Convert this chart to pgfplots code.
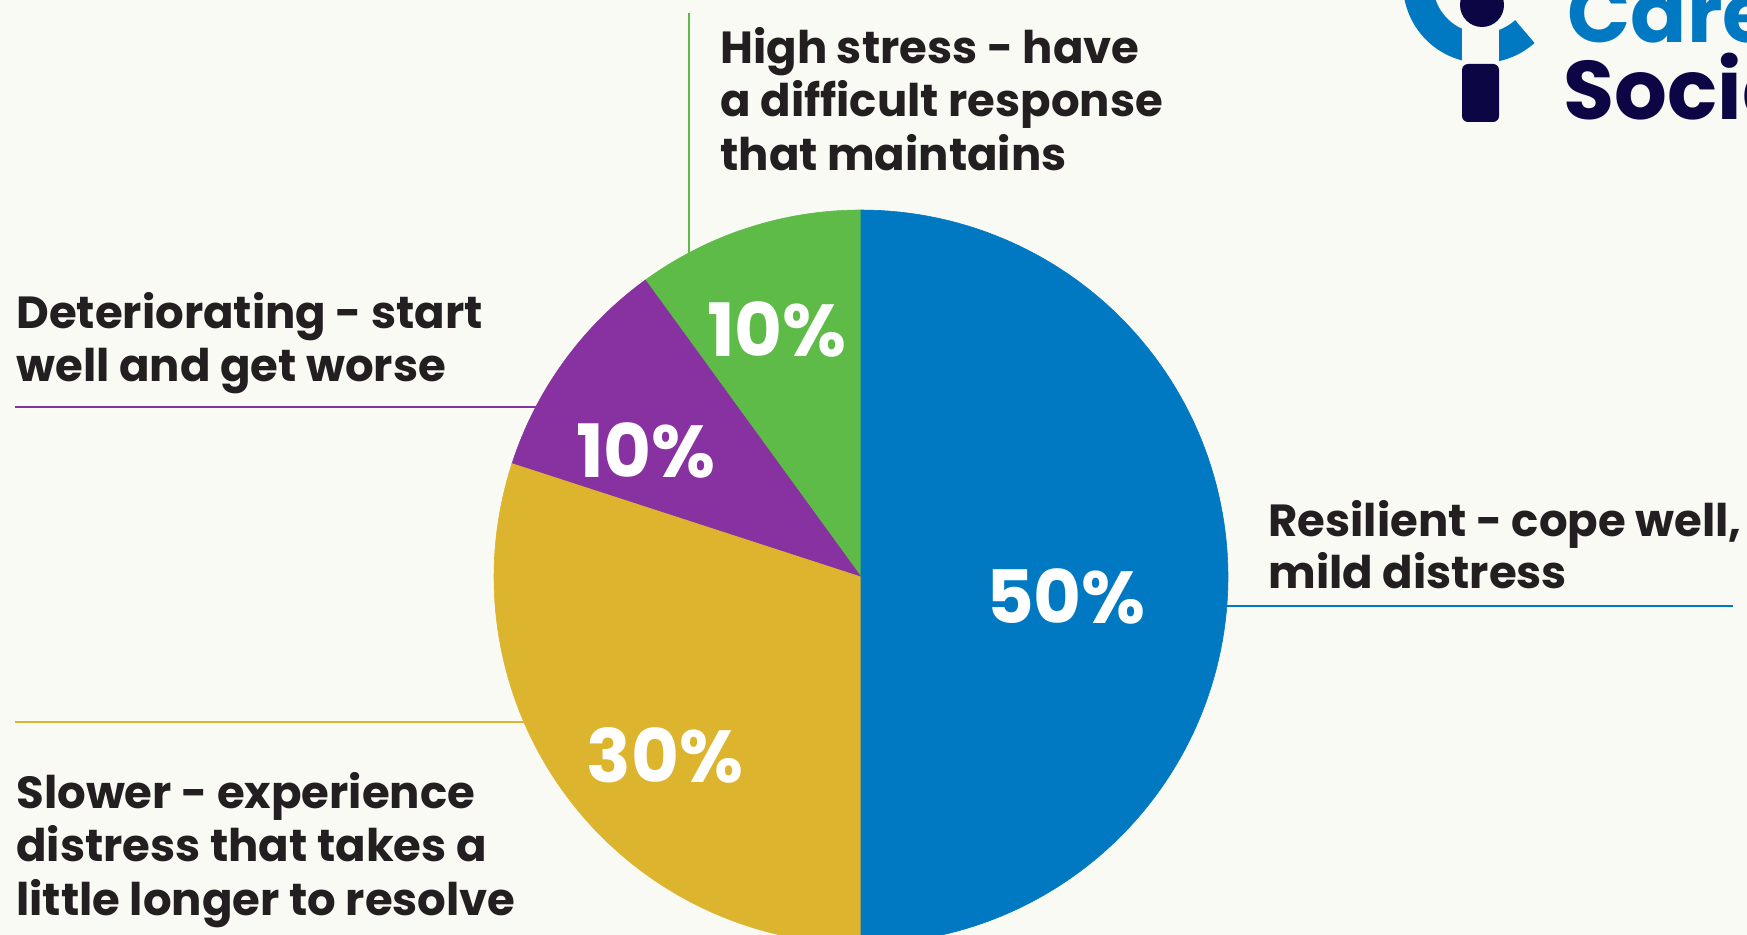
\documentclass[border=0pt]{standalone}
\usepackage{pgfplots}
\pgfplotsset{compat=1.18}
\usepackage{pgfplotstable}
\usepackage{fontspec}
\setmainfont{Poppins}

\definecolor{cbg}{HTML}{F9FAF4}
\definecolor{cblue}{HTML}{0079C2}
\definecolor{cgreen}{HTML}{5EBB47}
\definecolor{cpurple}{HTML}{8832A1}
\definecolor{cyellow}{HTML}{DDB42E}
\definecolor{ctext}{HTML}{231F20}
\definecolor{cnavy}{HTML}{0D0645}

% shares in percent, counter-clockwise from 12 o'clock
\pgfplotstableread{
slice value
HighStress 10
Deteriorating 10
Slower 30
Resilient 50
}\piedata

\pgfplotstablegetelem{0}{value}\of\piedata \let\vA\pgfplotsretval
\pgfplotstablegetelem{1}{value}\of\piedata \let\vB\pgfplotsretval
\pgfplotstablegetelem{2}{value}\of\piedata \let\vC\pgfplotsretval
\pgfplotstablegetelem{3}{value}\of\piedata \let\vD\pgfplotsretval
\pgfmathsetmacro\aA{90}
\pgfmathsetmacro\aB{\aA+3.6*\vA}
\pgfmathsetmacro\aC{\aB+3.6*\vB}
\pgfmathsetmacro\aD{\aC+3.6*\vC}
\pgfmathsetmacro\aE{\aD+3.6*\vD}

% pie centre and radius in pixels (y downwards)
\def\cx{861}
\def\cy{577}
\def\rr{367}

\tikzset{
  lbl/.style={anchor=base west, inner sep=0, text=ctext,
    font=\fontsize{22.5pt}{26.5pt}\selectfont\bfseries},
  pct/.style={anchor=base, inner sep=0, text=white,
    font=\fontsize{36.8pt}{40pt}\selectfont\bfseries},
}

\begin{document}
\begin{tikzpicture}
\useasboundingbox (0,0) rectangle (873.5pt,467.5pt);
\clip (0,0) rectangle (873.5pt,467.5pt);
\fill[cbg] (0,0) rectangle (873.5pt,467.5pt);
\begin{axis}[
    at={(0,0)}, anchor=south west,
    x=0.5pt, y=0.5pt, scale only axis,
    xmin=0, xmax=1747, ymin=0, ymax=935,
    y dir=reverse,
    hide axis, clip=true,
  ]
  % slices
  \addplot[fill=cgreen, draw=cgreen, line width=0.3pt, domain=\aA:\aB, samples=40, variable=\t]
    ({\cx+\rr*cos(\t)},{\cy-\rr*sin(\t)}) -- (axis cs:\cx,\cy) -- cycle;
  \addplot[fill=cpurple, draw=cpurple, line width=0.3pt, domain=\aB:\aC, samples=40, variable=\t]
    ({\cx+\rr*cos(\t)},{\cy-\rr*sin(\t)}) -- (axis cs:\cx,\cy) -- cycle;
  \addplot[fill=cyellow, draw=cyellow, line width=0.3pt, domain=\aC:\aD, samples=80, variable=\t]
    ({\cx+\rr*cos(\t)},{\cy-\rr*sin(\t)}) -- (axis cs:\cx,\cy) -- cycle;
  \addplot[fill=cblue, draw=cblue, line width=0.3pt, domain=\aD:\aE, samples=120, variable=\t]
    ({\cx+\rr*cos(\t)},{\cy-\rr*sin(\t)}) -- (axis cs:\cx,\cy) -- cycle;

  % leader lines
  \addplot[cgreen, line width=1.3pt] coordinates {(689,13) (689,262)};
  \addplot[cpurple, line width=1.3pt] coordinates {(15,407) (550,407)};
  \addplot[cyellow, line width=1.3pt] coordinates {(15,722) (526,722)};
  \addplot[cblue, line width=1.3pt] coordinates {(1222,606) (1733,606)};

  % percentages
  \node[pct] at (axis cs:777,357) {10\%};
  \node[pct] at (axis cs:646,477) {10\%};
  \node[pct] at (axis cs:665,782) {30\%};
  \node[pct] at (axis cs:1066,623) {50\%};

  % labels
  \node[lbl] at (axis cs:720,63.5) {High stress - have};
  \node[lbl] at (axis cs:720,117) {a difficult response};
  \node[lbl] at (axis cs:720,170.5) {that maintains};
  \node[lbl] at (axis cs:16,329) {Deteriorating - start};
  \node[lbl] at (axis cs:16,382) {well and get worse};
  \node[lbl] at (axis cs:1268,536) {Resilient - cope well,};
  \node[lbl] at (axis cs:1268,588) {mild distress};
  \node[lbl] at (axis cs:16,808) {Slower - experience};
  \node[lbl] at (axis cs:16,861) {distress that takes a};
  \node[lbl] at (axis cs:16,915) {little longer to resolve};

  % logo, cut by the right edge
  \addplot[cblue, line width=15pt, domain=150:312, samples=50, variable=\t]
    ({1482+64*cos(\t)},{-16-64*sin(\t)});
  \addplot[fill=cbg, draw=none] coordinates {(1462,20) (1499,20) (1499,64) (1462,64)} -- cycle;
  \fill[cnavy] (axis cs:1482,5) circle[radius=11pt];
  \fill[cnavy, rounded corners=3pt] (axis cs:1462,64) rectangle (axis cs:1499,122);
  \node[anchor=base west, inner sep=0, text=cblue, font=\fontsize{41.5pt}{42pt}\selectfont\bfseries]
    at (axis cs:1567,43) {Carers};
  \node[anchor=base west, inner sep=0, text=cnavy, font=\fontsize{41.5pt}{42pt}\selectfont\bfseries]
    at (axis cs:1563,120) {Social};
\end{axis}
\end{tikzpicture}
\end{document}
